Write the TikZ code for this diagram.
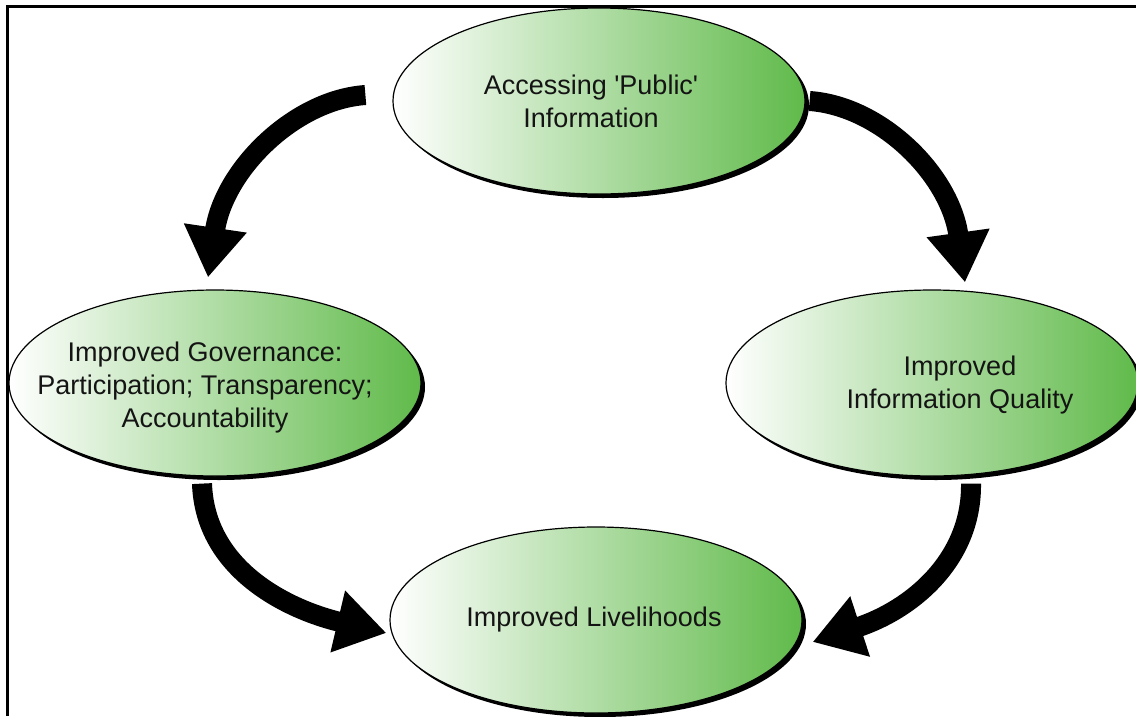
\documentclass[tikz,border=0pt]{standalone}
\usepackage{fontspec}
\newfontfamily\labfont{Liberation Sans}
\usetikzlibrary{shapes.geometric,shadows,arrows.meta,calc}
\definecolor{bubgreen}{RGB}{96,186,74}
\begin{document}
\begin{tikzpicture}[x=1pt,y=-1pt,
  bubble/.style={ellipse, minimum width=412pt, minimum height=186pt, inner sep=0pt,
    draw=black, line width=1.2pt, left color=white, right color=bubgreen,
    drop shadow={fill=black, opacity=1, shadow xshift=4pt, shadow yshift=-4pt}},
  lab/.style={font=\labfont\fontsize{27}{33}\selectfont, align=center, text=black!92, inner sep=0pt},
  bigarrow/.style={black, line width=20pt, -{Triangle[length=50pt,width=60pt]}},
  frameline/.style={line width=3pt}]
\useasboundingbox (0,0) rectangle (1136,716);
\fill[white] (0,0) rectangle (1136,716);
\draw[frameline] (7.8,716) |- (1136,6);

\node[bubble] (nAccess) at (599,101) {};
\node[bubble] (nGov) at (215,383) {};
\node[bubble] (nQual) at (932,383) {};
\node[bubble] (nLive) at (596,620) {};

\node[lab] (tAccess) at ($(nAccess)+(-8,0)$) {Accessing 'Public'\\Information};
\node[lab] (tGov) at ($(nGov)+(-10,5)$) {Improved Governance:\\Participation; Transparency;\\Accountability};
\node[lab] (tQual) at ($(nQual)+(28,2)$) {Improved\\Information Quality};
\node[lab] (tLive) at ($(nLive)+(-2,0)$) {Improved Livelihoods};

\draw[bigarrow] ($(nAccess.west)+(-27,-6)$) .. controls +(-71,5) and +(16,-108) .. ($(nGov.north)+(-7,-12)$);
\draw[bigarrow] ($(nAccess.east)+(4,0)$) .. controls +(71,5) and +(-15,-108) .. ($(nQual.north)+(33,-7)$);
\draw[bigarrow] ($(nGov.south)+(-13,7)$) .. controls +(3,87) and +(-97,-23) .. ($(nLive.west)+(-3,13)$);
\draw[bigarrow] ($(nQual.south)+(39,7)$) .. controls +(1,77) and +(98,-32) .. ($(nLive.east)+(10,22)$);
\end{tikzpicture}
\end{document}
